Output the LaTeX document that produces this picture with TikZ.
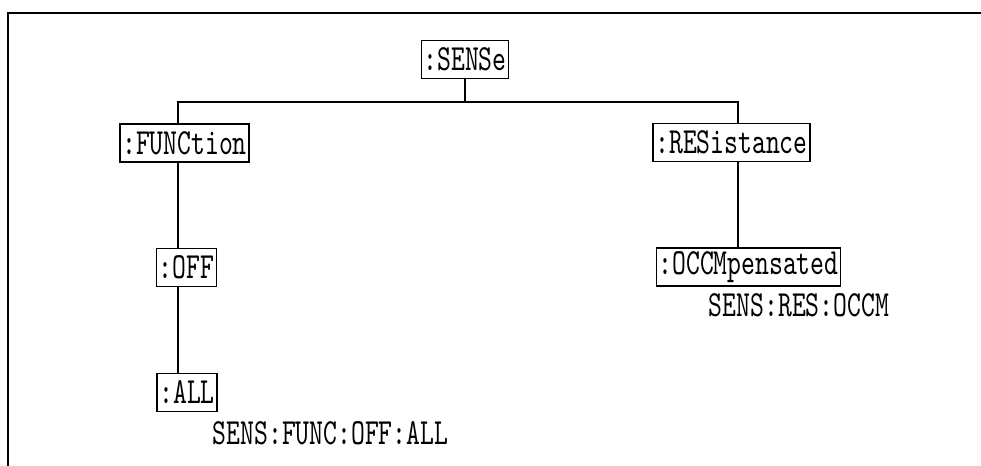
\documentclass[tikz,border=0pt]{standalone}
\usepackage{fontspec}
\newfontfamily\cmdfont{lmmono10-regular.otf}[FakeStretch=0.716]
\usetikzlibrary{positioning, calc}

\tikzset{
  cmdbox/.style={draw, line width=1.1pt, inner xsep=1.5pt, inner ysep=0pt,
                 minimum height=0.96cm, font=\cmdfont\fontsize{26.2}{28}\selectfont},
  cmdtext/.style={inner sep=0pt, font=\cmdfont\fontsize{26.2}{28}\selectfont},
  link/.style={line width=0.8pt}
}

\begin{document}
\begin{tikzpicture}[x=0.025cm, y=-0.025cm]
  \useasboundingbox (0,0) rectangle (981,466);
  % frame
  \draw[line width=1pt] (8,466) -- (8,13) -- (981,13);

  \node[cmdbox] (sense) at (465,59.5) {:SENSe};
  \node[cmdbox] (func) at (184.5,143) {:FUNCtion};
  \node[cmdbox] (res) at (731.5,142.5) {:RESistance};
  \node[cmdbox] (off) at (186.5,267.5) {:OFF};
  \node[cmdbox] (all) at (187,392.5) {:ALL};
  \node[cmdbox] (occm) at (748.5,267) {:OCCMpensated};
  \node[cmdtext] (allcmd) at (330.5,433.5) {SENS:FUNC:OFF:ALL};
  \node[cmdtext] (occmcmd) at (799,305) {SENS:RES:OCCM};

  \coordinate (busl) at (178,102);
  \coordinate (busr) at (738,102);

  \draw[link] (sense.south) -- (sense.south |- busl);
  \draw[link] (busl |- func.north) -- (busl) -- (busr) -- (busr |- res.north);
  \draw[link] (busl |- func.south) -- (busl |- off.north);
  \draw[link] (busl |- off.south) -- (busl |- all.north);
  \draw[link] (busr |- res.south) -- (busr |- occm.north);
\end{tikzpicture}
\end{document}
